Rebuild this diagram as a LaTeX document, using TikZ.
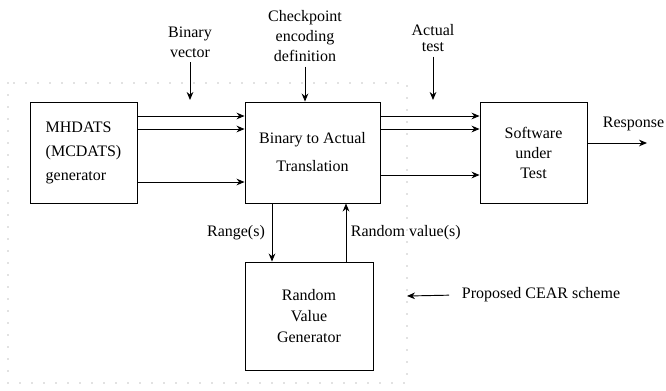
\documentclass[tikz,border=0pt]{standalone}
\usepackage{fontspec}
\setmainfont{Liberation Serif}
\usetikzlibrary{arrows.meta}

\begin{document}
\begin{tikzpicture}[x=0.75pt,y=-0.75pt,
    font=\fontsize{12}{15}\selectfont,
    >={Stealth[length=6pt,width=5pt]}, line width=0.7pt]
  \useasboundingbox (0,0) rectangle (666,390);

  % dotted border of the scheme
  \draw[gray, line width=1pt, line cap=round, dash pattern=on 0pt off 9pt]
    (8,83) rectangle (407,383);

  \begin{scope}[every node/.style={draw,rectangle,inner sep=0pt,minimum height=75.75pt}]
    \node (gen)   at (83.5,152.5)  [minimum width=80.25pt,align=left] {MHDATS\\[3pt](MCDATS)\\[3pt]generator};
    \node (trans) at (312.5,152.5) [minimum width=101.25pt,align=center] {Binary to Actual\\[6pt]Translation};
    \node (sut)   at (533.5,152.5) [minimum width=80.25pt,align=center] {Software\\under\\Test};
    \node (rvg)   at (309,316)     [minimum width=96pt,minimum height=81pt,align=center] {Random\\[1pt]Value\\[1pt]Generator};
  \end{scope}

  \begin{scope}[every node/.style={align=center}]
    \node (bv)   at (190,42) {Binary\\vector};
    \node (ced)  at (305,36) {Checkpoint\\encoding\\definition};
    \node (act)  at (433,38) {Actual\\[-3pt]test};
    \node (resp) [anchor=east,inner xsep=1pt] at (666,124) {Response};
    \node (cear) [anchor=west] at (457,295) {Proposed CEAR scheme};
  \end{scope}

  \coordinate (bvend)   at (190,100);
  \coordinate (actend)  at (433,100);
  \coordinate (respend) at (647,143);
  \coordinate (border)  at (407,296);

  \foreach \y in {116,129,182}
    \draw[->] (gen.east |- 0,\y) -- (trans.west |- 0,\y);
  \foreach \y in {116,129,175}
    \draw[->] (trans.east |- 0,\y) -- (sut.west |- 0,\y);

  \draw[->] (bv.south) -- (bvend);
  \draw[->] (ced.south) -- (ced.south |- trans.north);
  \draw[->] (act.south) -- (actend);
  \draw[->] (sut.east |- respend) -- (respend);
  \draw[->] (trans.south -| 272,0) -- node[left,inner sep=5pt] {Range(s)} (rvg.north -| 272,0);
  \draw[->] (rvg.north -| 346,0) -- node[right] {Random value(s)} (trans.south -| 346,0);
  \draw[->, shorten <=6pt] (cear.west) -- (border);

\end{tikzpicture}
\end{document}
